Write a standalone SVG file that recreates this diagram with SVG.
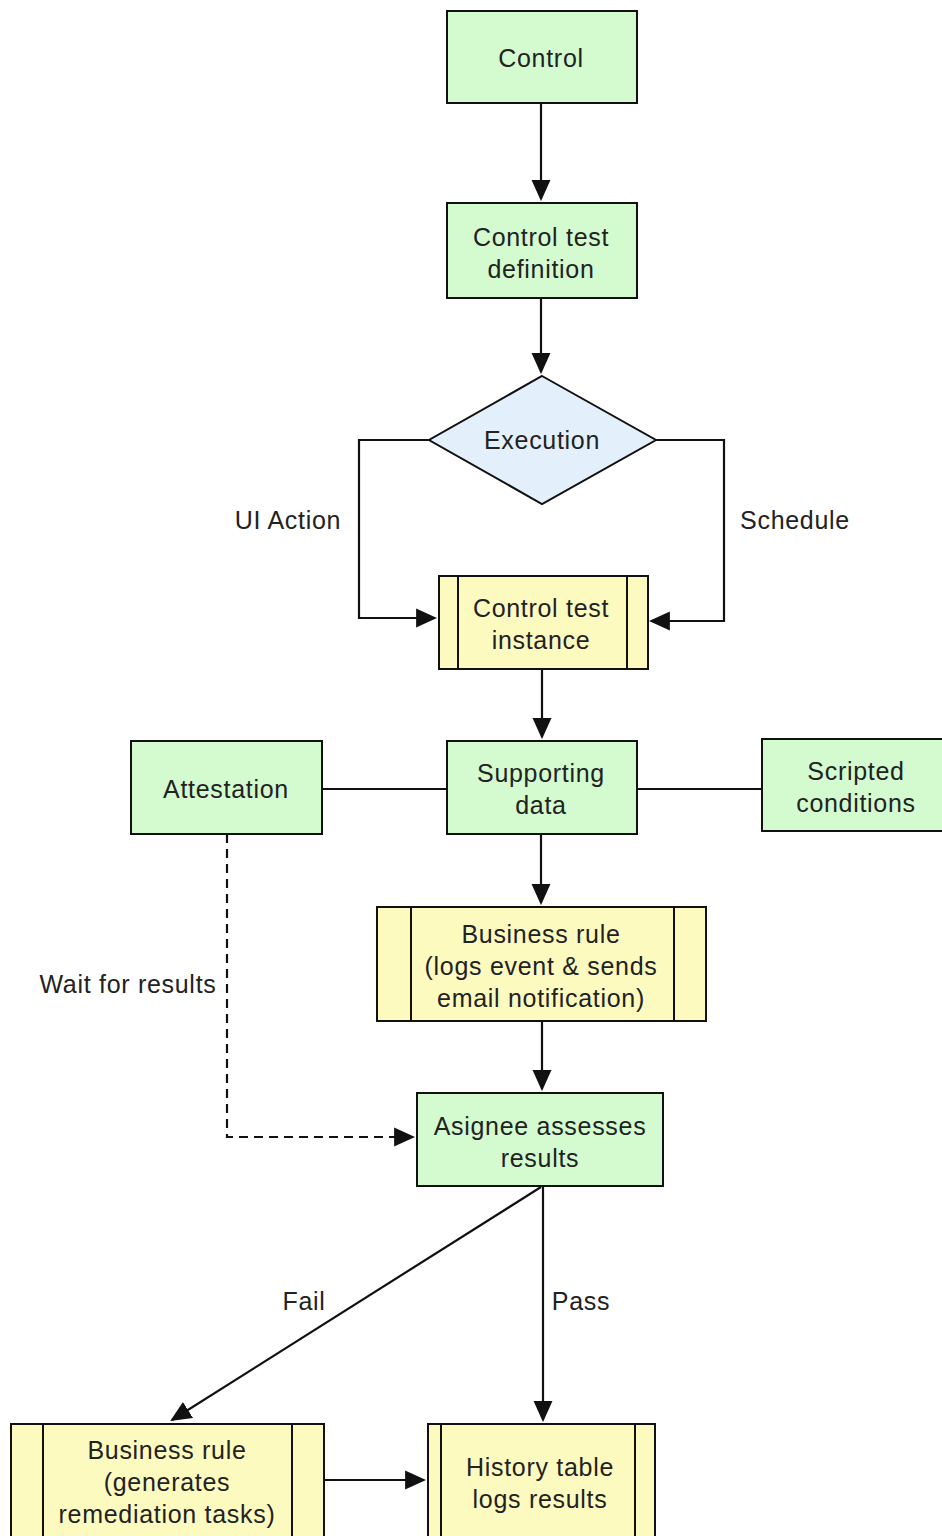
<svg xmlns="http://www.w3.org/2000/svg" width="942" height="1536" viewBox="0 0 942 1536">
  <defs>
    <style>
      .green { fill: #d3fbcf; stroke: #111; stroke-width: 2; }
      .yellow { fill: #fdfac0; stroke: #111; stroke-width: 2; }
      .blue { fill: #e4effc; stroke: #111; stroke-width: 2; }
      .bar { stroke: #111; stroke-width: 2; fill: none; }
      .lbl { font-family: "Liberation Sans", Arial, sans-serif; font-size: 25px; letter-spacing: 0.7px; fill: #222; text-anchor: middle; }
      .edge { fill: none; stroke: #111; stroke-width: 2.2; }
      .dash { stroke-dasharray: 9 6; }
    </style>
    <marker id="arrowBig" viewBox="0 0 10 10" refX="9" refY="5" markerWidth="21" markerHeight="21" markerUnits="userSpaceOnUse" orient="auto">
      <path d="M0,0.5 L10,5 L0,9.5 z" fill="#111"/>
    </marker>
  </defs>

  <!-- connectors -->
  <g id="connectors">
    <path class="edge" d="M541,103 V199" marker-end="url(#arrowBig)"/>
    <path class="edge" d="M541,298 V372" marker-end="url(#arrowBig)"/>
    <path class="edge" d="M429,440 H359 V618 H435" marker-end="url(#arrowBig)"/>
    <path class="edge" d="M656,440 H724 V621 H651" marker-end="url(#arrowBig)"/>
    <path class="edge" d="M542,669 V737" marker-end="url(#arrowBig)"/>
    <path class="edge" d="M322,789 H447"/>
    <path class="edge" d="M637,789 H762"/>
    <path class="edge" d="M541,834 V903" marker-end="url(#arrowBig)"/>
    <path class="edge" d="M542,1021 V1089" marker-end="url(#arrowBig)"/>
    <path class="edge dash" d="M227,834 V1137 H413" marker-end="url(#arrowBig)"/>
    <path class="edge" d="M541,1187 L172,1420" marker-end="url(#arrowBig)"/>
    <path class="edge" d="M543,1187 V1420" marker-end="url(#arrowBig)"/>
    <path class="edge" d="M324,1480 H424" marker-end="url(#arrowBig)"/>
    <text class="lbl" x="288" y="529">UI Action</text>
    <text class="lbl" x="795" y="529">Schedule</text>
    <text class="lbl" x="128" y="993">Wait for results</text>
    <text class="lbl" x="304" y="1310">Fail</text>
    <text class="lbl" x="581" y="1310">Pass</text>
  </g>

  <g id="control">
    <rect class="green" x="447" y="11" width="190" height="92"/>
    <text class="lbl" x="541" y="67">Control</text>
  </g>

  <g id="control-test-definition">
    <rect class="green" x="447" y="203" width="190" height="95"/>
    <text class="lbl" x="541" y="246">Control test</text>
    <text class="lbl" x="541" y="278">definition</text>
  </g>

  <g id="execution">
    <polygon class="blue" points="542,376 656,440 542,504 429,440"/>
    <text class="lbl" x="542" y="449">Execution</text>
  </g>

  <g id="control-test-instance">
    <rect class="yellow" x="439" y="576" width="209" height="93"/>
    <path class="bar" d="M458,576 V669 M627,576 V669"/>
    <text class="lbl" x="541" y="617">Control test</text>
    <text class="lbl" x="541" y="649">instance</text>
  </g>

  <g id="attestation">
    <rect class="green" x="131" y="741" width="191" height="93"/>
    <text class="lbl" x="226" y="798">Attestation</text>
  </g>

  <g id="supporting-data">
    <rect class="green" x="447" y="741" width="190" height="93"/>
    <text class="lbl" x="541" y="782">Supporting</text>
    <text class="lbl" x="541" y="814">data</text>
  </g>

  <g id="scripted-conditions">
    <rect class="green" x="762" y="739" width="190" height="92"/>
    <text class="lbl" x="856" y="780">Scripted</text>
    <text class="lbl" x="856" y="812">conditions</text>
  </g>

  <g id="business-rule-notify">
    <rect class="yellow" x="377" y="907" width="329" height="114"/>
    <path class="bar" d="M411,907 V1021 M674,907 V1021"/>
    <text class="lbl" x="541" y="943">Business rule</text>
    <text class="lbl" x="541" y="975">(logs event &amp; sends</text>
    <text class="lbl" x="541" y="1007">email notification)</text>
  </g>

  <g id="assignee-assesses">
    <rect class="green" x="417" y="1093" width="246" height="93"/>
    <text class="lbl" x="540" y="1135">Asignee assesses</text>
    <text class="lbl" x="540" y="1167">results</text>
  </g>

  <g id="business-rule-remediation">
    <rect class="yellow" x="11" y="1424" width="313" height="130"/>
    <path class="bar" d="M43,1424 V1554 M292,1424 V1554"/>
    <text class="lbl" x="167" y="1459">Business rule</text>
    <text class="lbl" x="167" y="1491">(generates</text>
    <text class="lbl" x="167" y="1523">remediation tasks)</text>
  </g>

  <g id="history-table">
    <rect class="yellow" x="428" y="1424" width="227" height="130"/>
    <path class="bar" d="M441,1424 V1554 M635,1424 V1554"/>
    <text class="lbl" x="540" y="1476">History table</text>
    <text class="lbl" x="540" y="1508">logs results</text>
  </g>
</svg>
